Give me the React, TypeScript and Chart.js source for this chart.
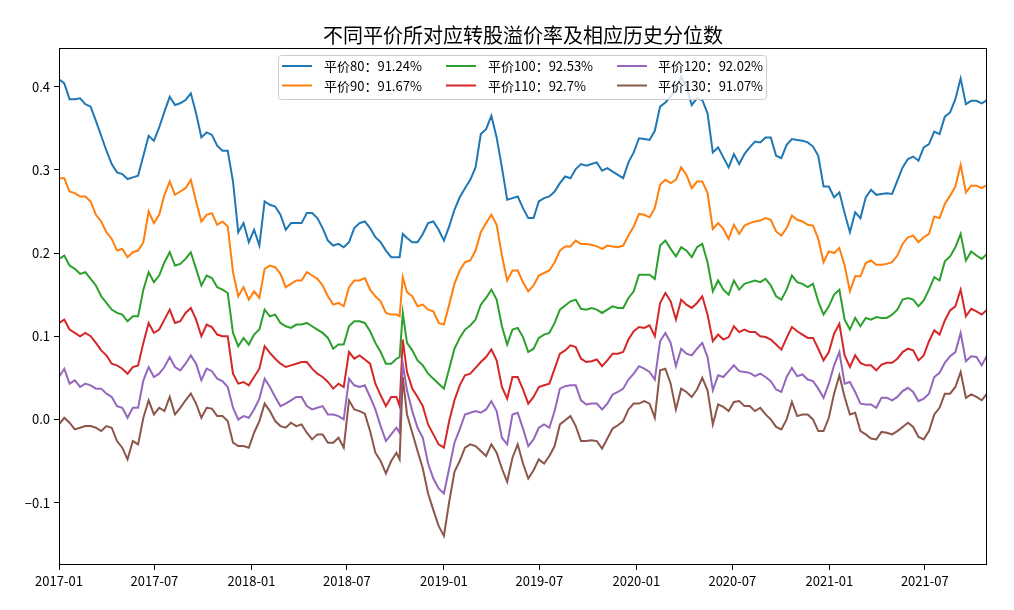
import React, { useEffect, useRef } from "react";
import { Chart, registerables } from "chart.js";

Chart.register(...registerables);

const dates = [
  "2017-01-01","2017-01-11","2017-01-21","2017-01-31","2017-02-10","2017-02-20","2017-03-02","2017-03-12","2017-03-22","2017-04-01",
  "2017-04-11","2017-04-21","2017-05-01","2017-05-11","2017-05-21","2017-05-31","2017-06-10","2017-06-20","2017-06-30","2017-07-10",
  "2017-07-20","2017-07-30","2017-08-09","2017-08-19","2017-08-29","2017-09-08","2017-09-18","2017-09-28","2017-10-08","2017-10-18",
  "2017-10-28","2017-11-07","2017-11-17","2017-11-27","2017-12-07","2017-12-17","2017-12-27","2018-01-06","2018-01-16","2018-01-26",
  "2018-02-05","2018-02-15","2018-02-25","2018-03-07","2018-03-17","2018-03-27","2018-04-06","2018-04-16","2018-04-26","2018-05-06",
  "2018-05-16","2018-05-26","2018-06-05","2018-06-15","2018-06-25","2018-07-05","2018-07-15","2018-07-25","2018-08-04","2018-08-14",
  "2018-08-24","2018-09-03","2018-09-13","2018-09-23","2018-10-03","2018-10-09","2018-10-15","2018-10-23","2018-11-02","2018-11-12",
  "2018-11-22","2018-12-02","2018-12-12","2018-12-22","2019-01-01","2019-01-11","2019-01-21","2019-01-31","2019-02-10","2019-02-20",
  "2019-03-02","2019-03-12","2019-03-22","2019-04-01","2019-04-11","2019-04-21","2019-05-01","2019-05-11","2019-05-21","2019-05-31",
  "2019-06-10","2019-06-20","2019-06-30","2019-07-10","2019-07-20","2019-07-30","2019-08-09","2019-08-19","2019-08-29","2019-09-08",
  "2019-09-18","2019-09-28","2019-10-08","2019-10-18","2019-10-28","2019-11-07","2019-11-17","2019-11-27","2019-12-07","2019-12-17",
  "2019-12-27","2020-01-06","2020-01-16","2020-01-26","2020-02-05","2020-02-15","2020-02-25","2020-03-06","2020-03-16","2020-03-26",
  "2020-04-05","2020-04-15","2020-04-25","2020-05-05","2020-05-15","2020-05-25","2020-06-04","2020-06-14","2020-06-24","2020-07-04",
  "2020-07-14","2020-07-24","2020-08-03","2020-08-13","2020-08-23","2020-09-02","2020-09-12","2020-09-22","2020-10-02","2020-10-12",
  "2020-10-22","2020-11-01","2020-11-11","2020-11-21","2020-12-01","2020-12-11","2020-12-21","2020-12-31","2021-01-10","2021-01-20",
  "2021-01-30","2021-02-09","2021-02-19","2021-03-01","2021-03-11","2021-03-21","2021-03-31","2021-04-10","2021-04-20","2021-04-30",
  "2021-05-10","2021-05-20","2021-05-30","2021-06-09","2021-06-19","2021-06-29","2021-07-09","2021-07-19","2021-07-29","2021-08-08",
  "2021-08-18","2021-08-28","2021-09-07","2021-09-17","2021-09-27","2021-10-07","2021-10-17","2021-10-27",
];

const parity80 = [
  0.409,0.404,0.385,0.385,0.386,0.379,0.376,0.359,0.341,0.323,
  0.307,0.297,0.295,0.289,0.291,0.293,0.317,0.341,0.335,0.351,
  0.370,0.388,0.378,0.380,0.384,0.392,0.368,0.339,0.345,0.342,
  0.329,0.323,0.323,0.286,0.225,0.236,0.213,0.228,0.209,0.262,
  0.258,0.256,0.246,0.228,0.236,0.236,0.236,0.248,0.248,0.242,
  0.230,0.215,0.209,0.211,0.207,0.213,0.230,0.236,0.238,0.230,
  0.219,0.213,0.203,0.195,0.195,0.195,0.223,0.218,0.213,0.213,
  0.223,0.236,0.238,0.228,0.215,0.232,0.252,0.267,0.278,0.288,
  0.303,0.343,0.349,0.365,0.339,0.303,0.264,0.266,0.268,0.254,
  0.242,0.242,0.262,0.266,0.268,0.274,0.284,0.292,0.290,0.301,
  0.307,0.305,0.307,0.309,0.299,0.302,0.298,0.294,0.290,0.309,
  0.321,0.338,0.337,0.336,0.347,0.376,0.381,0.388,0.397,0.412,
  0.400,0.378,0.386,0.384,0.368,0.321,0.327,0.315,0.303,0.319,
  0.307,0.319,0.327,0.334,0.333,0.339,0.339,0.317,0.314,0.330,
  0.337,0.336,0.335,0.333,0.328,0.317,0.280,0.280,0.267,0.273,
  0.248,0.225,0.249,0.242,0.267,0.276,0.270,0.271,0.272,0.271,
  0.287,0.303,0.313,0.316,0.311,0.327,0.331,0.346,0.343,0.364,
  0.369,0.385,0.410,0.379,0.383,0.383,0.380,0.384,
];

const parity90 = [
  0.290,0.290,0.274,0.272,0.268,0.268,0.262,0.246,0.238,0.225,
  0.217,0.203,0.205,0.195,0.201,0.203,0.213,0.250,0.236,0.246,
  0.270,0.286,0.270,0.274,0.278,0.288,0.262,0.238,0.246,0.248,
  0.234,0.238,0.232,0.177,0.148,0.159,0.144,0.154,0.146,0.181,
  0.185,0.183,0.175,0.159,0.163,0.167,0.167,0.177,0.173,0.169,
  0.161,0.148,0.138,0.140,0.136,0.159,0.167,0.167,0.170,0.156,
  0.148,0.142,0.128,0.126,0.126,0.124,0.171,0.153,0.148,0.136,
  0.138,0.132,0.130,0.116,0.114,0.138,0.163,0.179,0.189,0.191,
  0.203,0.225,0.236,0.246,0.234,0.197,0.167,0.179,0.179,0.165,
  0.154,0.161,0.173,0.176,0.179,0.189,0.203,0.208,0.208,0.215,
  0.211,0.211,0.210,0.208,0.205,0.209,0.208,0.207,0.209,0.221,
  0.232,0.247,0.246,0.243,0.254,0.282,0.288,0.284,0.288,0.303,
  0.294,0.278,0.286,0.286,0.272,0.229,0.236,0.229,0.217,0.234,
  0.223,0.233,0.236,0.238,0.239,0.242,0.240,0.226,0.221,0.230,
  0.245,0.240,0.238,0.234,0.233,0.217,0.189,0.202,0.200,0.206,
  0.185,0.154,0.172,0.172,0.188,0.191,0.186,0.186,0.187,0.189,
  0.197,0.211,0.219,0.221,0.213,0.219,0.223,0.244,0.242,0.259,
  0.269,0.280,0.306,0.273,0.281,0.281,0.278,0.282,
];

const parity100 = [
  0.193,0.197,0.185,0.181,0.175,0.177,0.169,0.161,0.148,0.140,
  0.132,0.128,0.126,0.118,0.124,0.124,0.156,0.177,0.165,0.173,
  0.189,0.201,0.185,0.187,0.193,0.201,0.181,0.161,0.173,0.170,
  0.159,0.156,0.152,0.104,0.088,0.098,0.090,0.102,0.108,0.132,
  0.124,0.126,0.116,0.112,0.110,0.114,0.114,0.116,0.112,0.108,
  0.104,0.098,0.085,0.090,0.090,0.112,0.118,0.118,0.116,0.106,
  0.092,0.081,0.067,0.067,0.073,0.075,0.128,0.092,0.083,0.071,
  0.065,0.055,0.049,0.043,0.037,0.061,0.085,0.098,0.108,0.113,
  0.120,0.138,0.146,0.156,0.144,0.112,0.090,0.108,0.110,0.099,
  0.081,0.085,0.098,0.102,0.104,0.116,0.132,0.137,0.142,0.144,
  0.133,0.132,0.134,0.132,0.128,0.132,0.136,0.134,0.134,0.146,
  0.154,0.174,0.174,0.174,0.169,0.209,0.215,0.205,0.196,0.207,
  0.203,0.195,0.207,0.211,0.189,0.154,0.167,0.156,0.150,0.167,
  0.156,0.163,0.165,0.167,0.165,0.169,0.161,0.148,0.144,0.156,
  0.173,0.165,0.163,0.159,0.163,0.142,0.126,0.136,0.150,0.156,
  0.120,0.108,0.122,0.112,0.122,0.120,0.123,0.122,0.122,0.126,
  0.132,0.144,0.146,0.144,0.136,0.143,0.156,0.171,0.167,0.190,
  0.196,0.207,0.223,0.191,0.202,0.197,0.193,0.199,
];

const parity110 = [
  0.116,0.120,0.108,0.104,0.100,0.104,0.100,0.092,0.083,0.077,
  0.067,0.065,0.061,0.055,0.063,0.065,0.092,0.116,0.104,0.108,
  0.120,0.132,0.116,0.118,0.128,0.134,0.120,0.100,0.114,0.111,
  0.102,0.100,0.100,0.055,0.043,0.045,0.041,0.051,0.061,0.088,
  0.080,0.073,0.067,0.063,0.065,0.067,0.069,0.069,0.061,0.055,
  0.051,0.045,0.037,0.043,0.039,0.081,0.073,0.077,0.072,0.067,
  0.043,0.029,0.016,0.027,0.027,0.016,0.096,0.057,0.037,0.027,
  0.016,-0.006,-0.018,-0.030,-0.034,-0.002,0.023,0.041,0.053,0.055,
  0.062,0.069,0.075,0.084,0.071,0.039,0.025,0.051,0.051,0.036,
  0.019,0.027,0.039,0.041,0.043,0.061,0.079,0.083,0.089,0.087,
  0.073,0.069,0.070,0.072,0.064,0.071,0.079,0.079,0.081,0.096,
  0.106,0.111,0.110,0.113,0.100,0.140,0.152,0.142,0.120,0.144,
  0.138,0.134,0.140,0.148,0.126,0.094,0.102,0.096,0.099,0.112,
  0.105,0.108,0.105,0.105,0.100,0.099,0.096,0.090,0.084,0.098,
  0.111,0.106,0.102,0.098,0.098,0.085,0.071,0.081,0.103,0.115,
  0.077,0.063,0.077,0.068,0.065,0.065,0.059,0.066,0.068,0.068,
  0.073,0.081,0.085,0.083,0.071,0.077,0.094,0.107,0.102,0.119,
  0.131,0.136,0.156,0.124,0.133,0.130,0.126,0.132,
];

const parity120 = [
  0.051,0.061,0.043,0.047,0.039,0.043,0.041,0.037,0.037,0.031,
  0.027,0.016,0.014,0.002,0.014,0.014,0.047,0.063,0.051,0.055,
  0.063,0.075,0.063,0.059,0.067,0.077,0.067,0.047,0.061,0.058,
  0.049,0.046,0.039,0.014,0.000,0.004,0.002,0.012,0.025,0.049,
  0.039,0.027,0.016,0.019,0.023,0.027,0.027,0.016,0.012,0.014,
  0.016,0.006,0.006,0.004,0.000,0.049,0.041,0.039,0.041,0.027,
  0.012,-0.008,-0.026,-0.018,-0.010,-0.016,0.067,0.035,0.010,-0.010,
  -0.022,-0.053,-0.071,-0.083,-0.089,-0.059,-0.028,-0.012,0.006,0.008,
  0.010,0.008,0.012,0.022,0.010,-0.022,-0.030,0.006,0.008,-0.011,
  -0.032,-0.024,-0.010,-0.006,-0.010,0.010,0.037,0.040,0.041,0.041,
  0.023,0.018,0.019,0.019,0.012,0.019,0.030,0.033,0.037,0.048,
  0.055,0.064,0.061,0.057,0.048,0.094,0.104,0.092,0.064,0.085,
  0.079,0.077,0.085,0.092,0.075,0.035,0.053,0.051,0.058,0.065,
  0.058,0.057,0.056,0.052,0.055,0.051,0.046,0.036,0.033,0.051,
  0.062,0.052,0.054,0.048,0.046,0.037,0.026,0.043,0.065,0.081,
  0.043,0.045,0.033,0.019,0.018,0.018,0.014,0.026,0.026,0.023,
  0.027,0.034,0.038,0.033,0.022,0.025,0.031,0.051,0.056,0.068,
  0.076,0.081,0.104,0.070,0.076,0.075,0.065,0.077,
];

const parity130 = [
  -0.006,0.002,-0.004,-0.012,-0.010,-0.008,-0.008,-0.010,-0.014,-0.008,
  -0.010,-0.026,-0.034,-0.048,-0.026,-0.030,0.002,0.023,0.006,0.014,
  0.010,0.027,0.006,0.014,0.023,0.031,0.019,0.002,0.014,0.013,
  0.004,0.004,-0.002,-0.028,-0.032,-0.032,-0.034,-0.016,-0.002,0.019,
  0.010,-0.002,-0.008,-0.010,-0.004,-0.008,-0.006,-0.016,-0.024,-0.018,
  -0.018,-0.028,-0.028,-0.022,-0.034,0.023,0.012,0.010,0.007,-0.014,
  -0.040,-0.050,-0.065,-0.050,-0.040,-0.048,0.051,0.006,-0.016,-0.038,
  -0.059,-0.089,-0.109,-0.128,-0.140,-0.099,-0.063,-0.050,-0.034,-0.030,
  -0.032,-0.038,-0.044,-0.030,-0.040,-0.059,-0.075,-0.046,-0.030,-0.053,
  -0.071,-0.061,-0.048,-0.053,-0.044,-0.032,-0.006,-0.001,0.004,-0.008,
  -0.026,-0.026,-0.025,-0.026,-0.035,-0.023,-0.011,-0.007,-0.002,0.012,
  0.019,0.019,0.022,0.019,0.002,0.059,0.061,0.043,0.012,0.037,
  0.033,0.027,0.036,0.050,0.035,-0.006,0.018,0.015,0.010,0.021,
  0.022,0.016,0.016,0.010,0.014,0.006,0.000,-0.009,-0.012,0.000,
  0.021,0.004,0.006,0.006,0.000,-0.014,-0.014,0.002,0.031,0.053,
  0.027,0.006,0.008,-0.014,-0.018,-0.023,-0.024,-0.015,-0.016,-0.018,
  -0.014,-0.009,-0.004,-0.009,-0.021,-0.024,-0.014,0.006,0.014,0.031,
  0.031,0.039,0.057,0.026,0.030,0.027,0.023,0.031,
];

const seriesLabels = [
  "平价80：91.24%",
  "平价90：91.67%",
  "平价100：92.53%",
  "平价110：92.7%",
  "平价120：92.02%",
  "平价130：91.07%",
];
const seriesValues = [parity80, parity90, parity100, parity110, parity120, parity130];
const seriesColors = ["#1f77b4", "#ff7f0e", "#2ca02c", "#d62728", "#9467bd", "#8c564b"];

const xTickLabels = ["2017-01", "2017-07", "2018-01", "2018-07", "2019-01", "2019-07", "2020-01", "2020-07", "2021-01", "2021-07"];
const yTickValues = [-0.1, 0.0, 0.1, 0.2, 0.3, 0.4];

const TITLE = "不同平价所对应转股溢价率及相应历史分位数";
const FONT = "'Noto Sans CJK SC', 'Noto Sans', sans-serif";

const toMs = (s: string) => Date.parse(s + "T00:00:00Z");
const fmtMonth = (v: number) => {
  const d = new Date(v);
  const m = d.getUTCMonth() + 1;
  return d.getUTCFullYear() + "-" + (m < 10 ? "0" + m : String(m));
};

const decorPlugin = {
  id: "mplDecor",
  afterDatasetsDraw(chart: any) {
    const ctx = chart.ctx as CanvasRenderingContext2D;
    const { left, right, top, bottom } = chart.chartArea;
    ctx.save();
    // spines
    ctx.strokeStyle = "#000";
    ctx.lineWidth = 1;
    ctx.strokeRect(left + 0.5, top + 0.5, right - left - 1, bottom - top - 1);

    // legend box
    const bx = 278.5, by = 55.5, bw = 488, bh = 44, r = 3;
    ctx.beginPath();
    ctx.moveTo(bx + r, by);
    ctx.lineTo(bx + bw - r, by);
    ctx.arcTo(bx + bw, by, bx + bw, by + r, r);
    ctx.lineTo(bx + bw, by + bh - r);
    ctx.arcTo(bx + bw, by + bh, bx + bw - r, by + bh, r);
    ctx.lineTo(bx + r, by + bh);
    ctx.arcTo(bx, by + bh, bx, by + bh - r, r);
    ctx.lineTo(bx, by + r);
    ctx.arcTo(bx, by, bx + r, by, r);
    ctx.closePath();
    ctx.fillStyle = "rgba(255,255,255,0.8)";
    ctx.fill();
    ctx.strokeStyle = "#cccccc";
    ctx.lineWidth = 1;
    ctx.stroke();

    const colLineX = [282, 446, 617];
    const colTextX = [324, 488, 658];
    const rowY = [66, 85.5];
    ctx.font = "13px " + FONT;
    ctx.textBaseline = "middle";
    ctx.textAlign = "left";
    seriesLabels.forEach((label, i) => {
      const col = Math.floor(i / 2);
      const row = i % 2;
      const y = rowY[row];
      ctx.strokeStyle = seriesColors[i];
      ctx.lineWidth = 2;
      ctx.beginPath();
      ctx.moveTo(colLineX[col], y);
      ctx.lineTo(colLineX[col] + 30, y);
      ctx.stroke();
      ctx.fillStyle = "#000";
      ctx.fillText(label, colTextX[col], y + 0.5);
    });

    // title
    ctx.font = "20px " + FONT;
    ctx.textAlign = "center";
    ctx.textBaseline = "middle";
    ctx.fillStyle = "#000";
    ctx.fillText(TITLE, (left + right) / 2, 35);
    ctx.restore();
  },
};

export default function App() {
  const canvasRef = useRef<HTMLCanvasElement | null>(null);

  useEffect(() => {
    const canvas = canvasRef.current;
    if (!canvas) return;
    const xs = dates.map(toMs);
    const xTickMs = xTickLabels.map((s) => toMs(s + "-01"));

    const chart = new Chart(canvas, {
      type: "line",
      data: {
        datasets: seriesValues.map((vals, i) => ({
          label: seriesLabels[i],
          data: vals.map((v, j) => ({ x: xs[j], y: v })),
          borderColor: seriesColors[i],
          backgroundColor: seriesColors[i],
          borderWidth: 2,
          pointRadius: 0,
          tension: 0,
          fill: false,
          order: seriesValues.length - i,
        })),
      },
      options: {
        responsive: false,
        animation: false,
        devicePixelRatio: 1,
        layout: { padding: { top: 48, right: 27, left: 0, bottom: 0 } },
        plugins: {
          legend: { display: false },
          title: { display: false },
          tooltip: { enabled: false },
        },
        scales: {
          x: {
            type: "linear",
            min: xs[0],
            max: xs[xs.length - 1],
            afterBuildTicks: (scale: any) => {
              scale.ticks = xTickMs.map((v) => ({ value: v }));
            },
            afterFit: (scale: any) => {
              scale.height = 45;
            },
            ticks: {
              autoSkip: false,
              maxRotation: 0,
              padding: 3,
              color: "#000",
              font: { family: FONT, size: 13 },
              callback: (v: any) => fmtMonth(Number(v)),
            },
            grid: {
              display: true,
              drawOnChartArea: false,
              drawTicks: true,
              tickLength: 5,
              color: "#000",
              lineWidth: 1,
            },
            border: { display: false },
          },
          y: {
            type: "linear",
            min: -0.175,
            max: 0.4465,
            afterBuildTicks: (scale: any) => {
              scale.ticks = yTickValues.map((v) => ({ value: v }));
            },
            afterFit: (scale: any) => {
              scale.width = 59;
            },
            ticks: {
              padding: 4,
              color: "#000",
              font: { family: FONT, size: 13 },
              callback: (v: any) => {
                const n = Number(v);
                const s = Math.abs(n).toFixed(1);
                return n < -1e-9 ? "\u2212" + s : s;
              },
            },
            grid: {
              display: true,
              drawOnChartArea: false,
              drawTicks: true,
              tickLength: 5,
              color: "#000",
              lineWidth: 1,
            },
            border: { display: false },
          },
        },
      },
      plugins: [decorPlugin],
    });
    return () => chart.destroy();
  }, []);

  return (
    <div style={{ position: "absolute", left: 0, top: 0, width: 1014, height: 610, background: "#fff" }}>
      <canvas ref={canvasRef} width={1014} height={610} style={{ width: 1014, height: 610, display: "block" }} />
    </div>
  );
}
